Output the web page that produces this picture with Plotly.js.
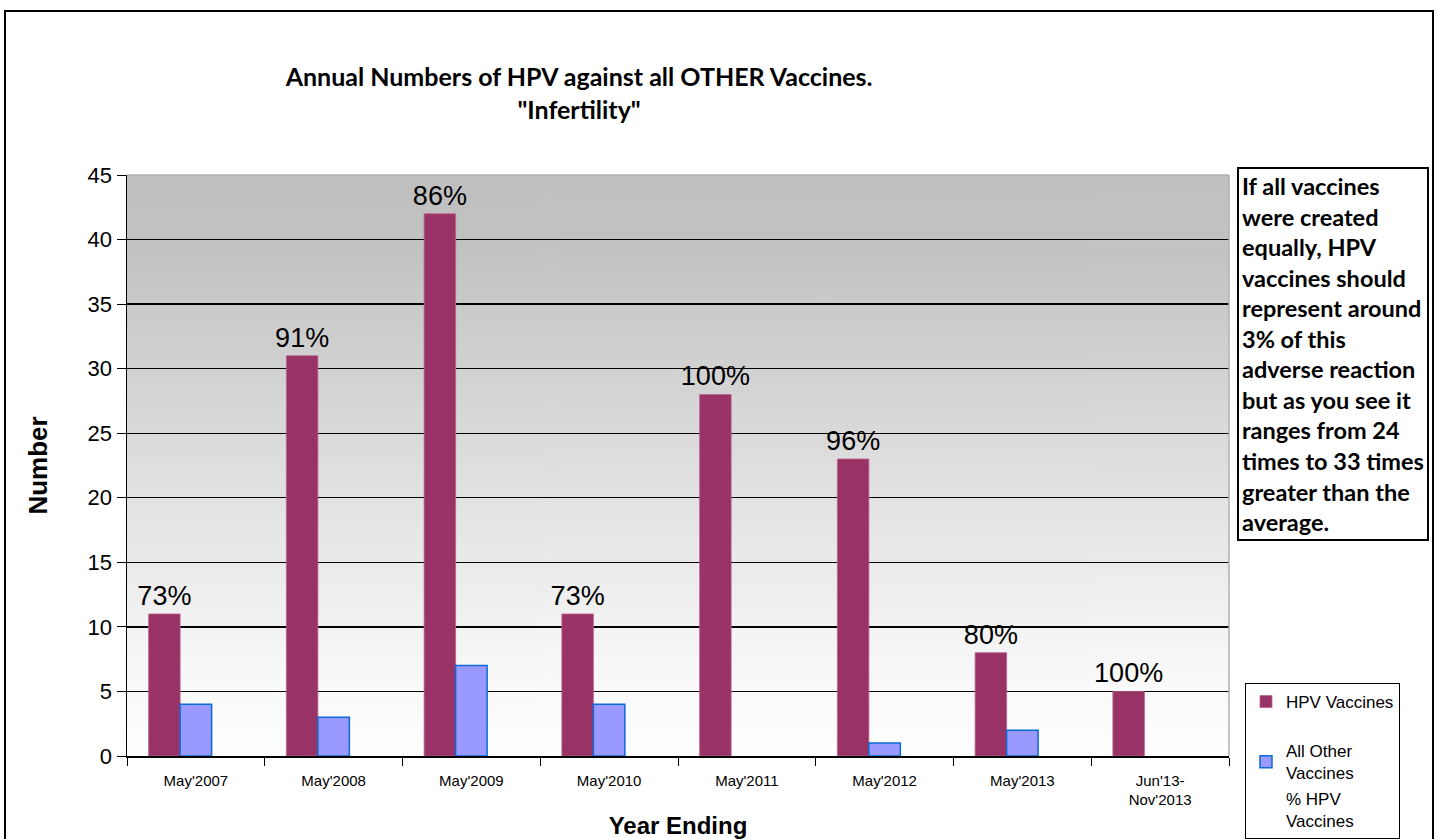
<!DOCTYPE html>
<html>
<head>
<meta charset="utf-8">
<script src="https://cdn.plot.ly/plotly-3.0.1.min.js"></script>
<style>
  html, body { margin: 0; padding: 0; background: #ffffff; overflow: hidden; }
  #chart { position: absolute; left: 0; top: 0; width: 1438px; height: 839px; }
  #frame { position: absolute; left: 4px; top: 10px; width: 1430px; height: 840px;
           border: 2px solid #000; pointer-events: none; box-sizing: border-box; }
</style>
</head>
<body>
<div id="chart"></div>
<div id="frame"></div>
<script>
// ---- data ----
const categories = ["May'2007", "May'2008", "May'2009", "May'2010", "May'2011", "May'2012", "May'2013", "Jun'13-<br>Nov'2013"];
const hpvVaccines = [11, 31, 42, 11, 28, 23, 8, 5];
const otherVaccines = [4, 3, 7, 4, 0, 1, 2, 0];
const pctHPV = [73, 91, 86, 73, 100, 96, 80, 100];

const titleText = 'Annual Numbers of HPV against all OTHER Vaccines.<br>"Infertility"';
const noteText = 'If all vaccines<br>were created<br>equally, HPV<br>vaccines should<br>represent around<br>3% of this<br>adverse reaction<br>but as you see it<br>ranges from 24<br>times to 33 times<br>greater than the<br>average.';

// background gradient for the plot area
function gradientURL() {
  const c = document.createElement('canvas');
  c.width = 4; c.height = 400;
  const g = c.getContext('2d');
  const lg = g.createLinearGradient(0, 0, 0, 400);
  lg.addColorStop(0, '#c0c0c0');
  lg.addColorStop(0.12, '#c2c2c2');
  lg.addColorStop(0.55, '#e2e2e2');
  lg.addColorStop(0.85, '#f8f8f8');
  lg.addColorStop(1, '#ffffff');
  g.fillStyle = lg;
  g.fillRect(0, 0, 4, 400);
  return c.toDataURL('image/png');
}

const traces = [
  {
    type: 'bar', name: 'HPV Vaccines', x: categories, y: hpvVaccines, legendgroup: 'g1',
    marker: { color: '#993366', line: { color: '#b8628c', width: 0.8 } },
    text: pctHPV.map(v => v + '%'), textposition: 'outside', cliponaxis: false,
    constraintext: 'none',
    textfont: { family: 'Liberation Sans, Arial, sans-serif', size: 27, color: '#000' }
  },
  {
    type: 'bar', name: 'All Other<br>Vaccines', x: categories, y: otherVaccines, legendgroup: 'g2',
    marker: { color: '#9999ff', line: { color: '#0a6ad6', width: otherVaccines.map(v => v ? 1.5 : 0) } }
  },
  {
    type: 'bar', name: '% HPV<br>Vaccines', x: categories, y: pctHPV, legendgroup: 'g2',
    marker: { color: 'rgba(0,0,0,0)', line: { width: 0 } }, hoverinfo: 'skip'
  }
];

const layout = {
  width: 1438, height: 839,
  paper_bgcolor: '#ffffff', plot_bgcolor: 'rgba(0,0,0,0)',
  margin: { l: 127, r: 209, t: 175, b: 83, autoexpand: false },
  font: { family: 'Liberation Sans, Arial, sans-serif', color: '#000' },
  showlegend: true,
  barmode: 'group', bargap: 0.314, bargroupgap: 0,
  title: {
    text: titleText, x: 0.4027, xanchor: 'center', xref: 'container',
    y: 1 - 86 / 839, yanchor: 'top', yref: 'container',
    font: { family: 'Lato, sans-serif', size: 25, weight: 'bold', color: '#000' }
  },
  xaxis: {
    type: 'category', tickson: 'boundaries', ticks: 'outside', ticklen: 8, tickcolor: '#000',
    showline: true, linecolor: '#000', linewidth: 1.5, showgrid: false,
    tickfont: { size: 15, color: '#000' }, tickangle: 0, ticklabelstandoff: 10,
    title: { text: 'Year Ending', standoff: 14, font: { size: 24, weight: 'bold', color: '#000' } }
  },
  yaxis: {
    range: [0, 45], dtick: 5, ticks: 'outside', ticklen: 9, tickcolor: '#000',
    showline: true, linecolor: '#000', linewidth: 1.5,
    showgrid: true, gridcolor: '#000', gridwidth: 1.3, zeroline: false,
    tickfont: { size: 22, color: '#000' },
    title: { text: 'Number', standoff: 32, font: { size: 26, weight: 'bold', color: '#000' } }
  },
  legend: {
    x: 1.0145, y: 0.1256, xanchor: 'left', yanchor: 'top',
    bgcolor: '#ffffff', bordercolor: '#000', borderwidth: 1,
    font: { size: 17, color: '#000' }, itemwidth: 30, tracegroupgap: 24
  },
  images: [{
    source: gradientURL(), xref: 'paper', yref: 'paper', x: 0, y: 1, sizex: 1, sizey: 1,
    sizing: 'stretch', layer: 'below', xanchor: 'left', yanchor: 'top'
  }],
  shapes: [
    { type: 'line', xref: 'paper', yref: 'paper', x0: 0, x1: 1, y0: 1, y1: 1, line: { color: '#b0b0b0', width: 1.5 }, layer: 'above' },
    { type: 'line', xref: 'paper', yref: 'paper', x0: 1, x1: 1, y0: 0, y1: 1, line: { color: '#b0b0b0', width: 1.5 }, layer: 'above' }
  ],
  annotations: [{
    text: noteText, xref: 'paper', yref: 'paper', x: 1.0073, y: 1.0138,
    xanchor: 'left', yanchor: 'top', align: 'left', showarrow: false,
    bgcolor: '#ffffff', bordercolor: '#000', borderwidth: 2, borderpad: 3,
    font: { family: 'Lato, sans-serif', size: 23.5, weight: 'bold', color: '#000' }
  }]
};

Plotly.newPlot('chart', traces, layout, { staticPlot: true, displayModeBar: false });
</script>
</body>
</html>
